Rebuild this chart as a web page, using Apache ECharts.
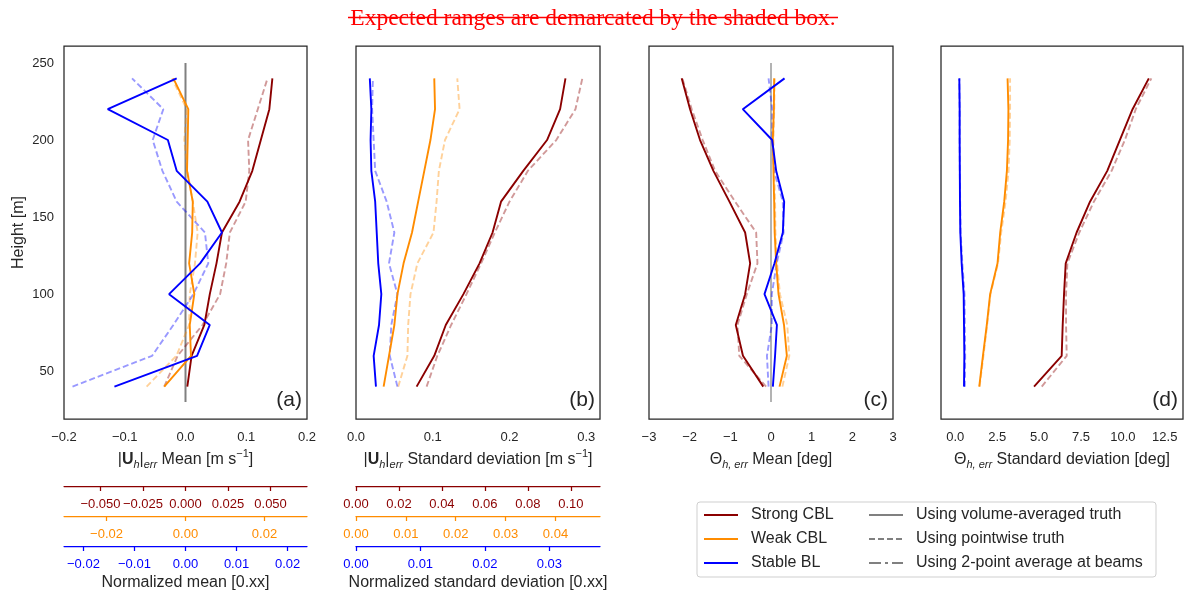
<!DOCTYPE html>
<html>
<head>
<meta charset="utf-8">
<script src="https://cdn.jsdelivr.net/npm/echarts@6/dist/echarts.min.js"></script>
<style>
  html, body { margin: 0; padding: 0; background: #fff; }
  #chart { width: 1184px; height: 592px; }
</style>
</head>
<body>
<div id="chart"></div>
<script>
// profile levels [m]
const heights = [40, 60, 80, 100, 120, 140, 160, 180, 200, 220, 240];
const zeroLine = [30, 250];

// (a) |U_h|_err mean [m/s]  (Vol = volume-averaged truth, Pt = pointwise truth)
const strongMeanVol = [0.003, 0.010, 0.031, 0.040, 0.051, 0.060, 0.089, 0.110, 0.124, 0.138, 0.143];
const strongMeanPt = [-0.035, -0.013, 0.028, 0.057, 0.067, 0.073, 0.099, 0.105, 0.103, 0.119, 0.135];
const weakMeanVol = [-0.035, 0.009, 0.007, 0.0145, 0.006, 0.011, 0.012, 0.0025, 0.0036, 0.0046, -0.020];
const weakMeanPt = [-0.064, -0.015, 0.006, 0.007, 0.0156, 0.020, 0.012, 0.003, -0.002, 0.002, -0.022];
const stableMeanVol = [-0.117, 0.019, 0.040, -0.027, 0.024, 0.060, 0.036, -0.0145, -0.029, -0.128, -0.0145];
const stableMeanPt = [-0.186, -0.055, -0.020, 0.013, 0.0375, 0.032, -0.0145, -0.038, -0.054, -0.0365, -0.088];

// (b) |U_h|_err standard deviation [m/s]
const strongStdVol = [0.079, 0.102, 0.117, 0.140, 0.161, 0.178, 0.189, 0.218, 0.249, 0.266, 0.273];
const strongStdPt = [0.092, 0.106, 0.124, 0.144, 0.163, 0.181, 0.200, 0.224, 0.261, 0.286, 0.295];
const weakStdVol = [0.036, 0.043, 0.050, 0.054, 0.062, 0.073, 0.081, 0.089, 0.097, 0.103, 0.102];
const weakStdPt = [0.055, 0.067, 0.068, 0.071, 0.080, 0.101, 0.105, 0.108, 0.116, 0.135, 0.132];
const stableStdVol = [0.026, 0.023, 0.030, 0.033, 0.029, 0.027, 0.025, 0.020, 0.019, 0.020, 0.018];
const stableStdPt = [0.054, 0.044, 0.046, 0.054, 0.043, 0.050, 0.040, 0.025, 0.023, 0.021, 0.022];

// (c) Theta_h,err mean [deg]
const strongDirVol = [-0.19, -0.69, -0.866, -0.636, -0.513, -0.636, -1.022, -1.416, -1.745, -1.99, -2.196];
const strongDirPt = [-0.12, -0.78, -0.825, -0.595, -0.333, -0.365, -0.883, -1.375, -1.68, -1.95, -2.18];
const weakDirVol = [0.21, 0.39, 0.32, 0.185, 0.127, 0.09, 0.078, 0.06, 0.045, 0.07, 0.078];
const weakDirPt = [0.28, 0.45, 0.40, 0.22, 0.15, 0.11, 0.10, 0.08, 0.06, 0.08, 0.09];
const stableDirVol = [0.046, 0.10, 0.145, -0.16, 0.086, 0.291, 0.324, 0.127, 0.029, -0.694, 0.333];
const stableDirPt = [-0.06, -0.10, 0.02, 0.02, 0.14, 0.31, 0.29, 0.078, 0.03, 0.03, -0.06];

// (d) Theta_h,err standard deviation [deg]
const strongDirStdVol = [4.70, 6.35, 6.41, 6.49, 6.59, 7.24, 8.04, 9.07, 9.82, 10.58, 11.55];
const strongDirStdPt = [5.16, 6.65, 6.61, 6.61, 6.69, 7.40, 8.27, 9.33, 10.12, 10.77, 11.70];
const weakDirStdVol = [1.43, 1.65, 1.88, 2.08, 2.52, 2.68, 2.92, 3.08, 3.15, 3.17, 3.12];
const weakDirStdPt = [1.45, 1.68, 1.90, 2.10, 2.55, 2.74, 3.00, 3.18, 3.25, 3.27, 3.27];
const stableDirStdVol = [0.52, 0.54, 0.52, 0.50, 0.38, 0.30, 0.28, 0.27, 0.26, 0.26, 0.24];
const stableDirStdPt = [0.57, 0.59, 0.57, 0.55, 0.42, 0.32, 0.29, 0.27, 0.26, 0.26, 0.24];

// tick labels
const heightTicks = [50, 100, 150, 200, 250];
const meanTicks = [-0.2, -0.1, 0, 0.1, 0.2];
const stdTicks = [0, 0.1, 0.2, 0.3];
const dirTicks = [-3, -2, -1, 0, 1, 2, 3];
const dirStdTicks = [0, 2.5, 5, 7.5, 10, 12.5];
const normMeanStrongTicks = [-0.05, -0.025, 0, 0.025, 0.05];
const normMeanWeakTicks = [-0.02, 0, 0.02];
const normMeanStableTicks = [-0.02, -0.01, 0, 0.01, 0.02];
const normStdStrongTicks = [0, 0.02, 0.04, 0.06, 0.08, 0.10];
const normStdWeakTicks = [0, 0.01, 0.02, 0.03, 0.04];
const normStdStableTicks = [0, 0.01, 0.02, 0.03];

// mean wind speed used for the normalized axes [m/s]
const normStrong = 2.8, normWeak = 6.5, normStable = 8.4;

const legendCases = ['Strong CBL', 'Weak CBL', 'Stable BL'];
const legendTruth = ['Using volume-averaged truth', 'Using pointwise truth', 'Using 2-point average at beams'];

const RED = '#8b0000', ORANGE = '#ff8c00', BLUE = '#0000ff', GRAY = '#808080', INK = '#262626';
const FONT = '"Liberation Sans", Arial, sans-serif';
const MINUS = '\u2212';
const fmt = d => v => (v < 0 ? MINUS : '') + Math.abs(v).toFixed(d);

const panels = [
    { left: 64, width: 243 },
    { left: 356, width: 244 },
    { left: 649, width: 244 },
    { left: 941, width: 242 }
];
const yMin = 19, yMax = 261;

const nameStyle = {
    fontSize: 16, color: INK, fontFamily: FONT, lineHeight: 22,
    rich: {
        b: { fontSize: 16, fontWeight: 'bold', color: INK, fontFamily: FONT, lineHeight: 22 },
        sub: { fontSize: 11, fontStyle: 'italic', color: INK, fontFamily: FONT, verticalAlign: 'bottom', lineHeight: 13 },
        sup: { fontSize: 11, color: INK, fontFamily: FONT, verticalAlign: 'top', lineHeight: 13 }
    }
};

function profile(name, xs, g, color, dashed) {
    return {
        name: name,
        type: 'line',
        xAxisIndex: g,
        yAxisIndex: g,
        data: heights.map((h, i) => [xs[i], h]),
        symbol: 'none',
        silent: true,
        z: dashed ? 2 : 3,
        itemStyle: { color: color },
        lineStyle: { color: color, width: 1.9, type: dashed ? [6, 3] : 'solid', opacity: dashed ? 0.4 : 1 }
    };
}

function mainX(g, min, max, ticks, dec, name) {
    return {
        gridIndex: g, type: 'value', min: min, max: max,
        axisLine: { show: false }, axisTick: { show: false }, splitLine: { show: false },
        axisLabel: { customValues: ticks, formatter: fmt(dec), margin: 12, color: INK, fontSize: 13, fontFamily: FONT },
        name: name, nameLocation: 'middle', nameGap: 28, nameTextStyle: nameStyle
    };
}

function normX(g, min, max, ticks, dec, color, name) {
    return {
        gridIndex: g, type: 'value', min: min, max: max, position: 'bottom',
        axisLine: { show: true, onZero: false, lineStyle: { color: color, width: 1.25 } },
        axisTick: { show: true, length: 5, customValues: ticks, lineStyle: { color: color, width: 1.25 } },
        splitLine: { show: false },
        axisLabel: { customValues: ticks, formatter: fmt(dec), margin: 12, color: color, fontSize: 13, fontFamily: FONT },
        name: name || '', nameLocation: 'middle', nameGap: 29,
        nameTextStyle: { fontSize: 16, color: INK, fontFamily: FONT }
    };
}

const grids = panels.map(p => ({
    left: p.left, width: p.width, top: 46, height: 373,
    show: true, borderColor: INK, borderWidth: 1.25, backgroundColor: 'transparent'
}));
[485, 515, 545].forEach(t => grids.push({ left: panels[0].left, width: panels[0].width, top: t, height: 1 }));
[485, 515, 545].forEach(t => grids.push({ left: panels[1].left, width: panels[1].width, top: t, height: 1 }));

const xAxes = [
    mainX(0, -0.2, 0.2, meanTicks, 1, '|{b|U}{sub|h}|{sub|err} Mean [m s{sup|\u22121}]'),
    mainX(1, 0, 0.318, stdTicks, 1, '|{b|U}{sub|h}|{sub|err} Standard deviation [m s{sup|\u22121}]'),
    mainX(2, -3, 3, dirTicks, 0, '\u0398{sub|h, err} Mean [deg]'),
    mainX(3, -0.853, 13.59, dirStdTicks, 1, '\u0398{sub|h, err} Standard deviation [deg]'),
    normX(4, -0.2 / normStrong, 0.2 / normStrong, normMeanStrongTicks, 3, RED),
    normX(5, -0.2 / normWeak, 0.2 / normWeak, normMeanWeakTicks, 2, ORANGE),
    normX(6, -0.2 / normStable, 0.2 / normStable, normMeanStableTicks, 2, BLUE, 'Normalized mean [0.xx]'),
    normX(7, 0, 0.318 / normStrong, normStdStrongTicks, 2, RED),
    normX(8, 0, 0.318 / normWeak, normStdWeakTicks, 2, ORANGE),
    normX(9, 0, 0.318 / normStable, normStdStableTicks, 2, BLUE, 'Normalized standard deviation [0.xx]')
];

const yAxes = [];
for (let g = 0; g < 4; g++) {
    yAxes.push({
        gridIndex: g, type: 'value', min: yMin, max: yMax,
        axisLine: { show: false }, axisTick: { show: false }, splitLine: { show: false },
        axisLabel: { show: g === 0, customValues: heightTicks, margin: 10, color: INK, fontSize: 13, fontFamily: FONT },
        name: g === 0 ? 'Height [m]' : '', nameLocation: 'middle', nameGap: 37,
        nameTextStyle: { fontSize: 16, color: INK, fontFamily: FONT }
    });
}
for (let g = 4; g < 10; g++) {
    yAxes.push({ gridIndex: g, type: 'value', min: 0, max: 1, show: false });
}

const series = [
    { name: 'zero a', type: 'line', xAxisIndex: 0, yAxisIndex: 0, data: zeroLine.map(h => [0, h]), symbol: 'none', silent: true, z: 1, lineStyle: { color: GRAY, width: 2 } },
    { name: 'zero c', type: 'line', xAxisIndex: 2, yAxisIndex: 2, data: zeroLine.map(h => [0, h]), symbol: 'none', silent: true, z: 1, lineStyle: { color: GRAY, width: 1.2 } },

    profile('Strong CBL', strongMeanVol, 0, RED, false),
    profile('Strong CBL pt', strongMeanPt, 0, RED, true),
    profile('Weak CBL', weakMeanVol, 0, ORANGE, false),
    profile('Weak CBL pt', weakMeanPt, 0, ORANGE, true),
    profile('Stable BL', stableMeanVol, 0, BLUE, false),
    profile('Stable BL pt', stableMeanPt, 0, BLUE, true),

    profile('Strong CBL', strongStdVol, 1, RED, false),
    profile('Strong CBL pt', strongStdPt, 1, RED, true),
    profile('Weak CBL', weakStdVol, 1, ORANGE, false),
    profile('Weak CBL pt', weakStdPt, 1, ORANGE, true),
    profile('Stable BL', stableStdVol, 1, BLUE, false),
    profile('Stable BL pt', stableStdPt, 1, BLUE, true),

    profile('Strong CBL', strongDirVol, 2, RED, false),
    profile('Strong CBL pt', strongDirPt, 2, RED, true),
    profile('Weak CBL', weakDirVol, 2, ORANGE, false),
    profile('Weak CBL pt', weakDirPt, 2, ORANGE, true),
    profile('Stable BL', stableDirVol, 2, BLUE, false),
    profile('Stable BL pt', stableDirPt, 2, BLUE, true),

    profile('Strong CBL', strongDirStdVol, 3, RED, false),
    profile('Strong CBL pt', strongDirStdPt, 3, RED, true),
    profile('Weak CBL', weakDirStdVol, 3, ORANGE, false),
    profile('Weak CBL pt', weakDirStdPt, 3, ORANGE, true),
    profile('Stable BL', stableDirStdVol, 3, BLUE, false),
    profile('Stable BL pt', stableDirStdPt, 3, BLUE, true),

    // legend-only entries for the truth styles
    { name: legendTruth[0], type: 'line', data: [], symbol: 'none', itemStyle: { color: GRAY }, lineStyle: { color: GRAY, width: 1.8 } },
    { name: legendTruth[1], type: 'line', data: [], symbol: 'none', itemStyle: { color: GRAY }, lineStyle: { color: GRAY, width: 1.8, type: [6, 3] } },
    { name: legendTruth[2], type: 'line', data: [], symbol: 'none', itemStyle: { color: GRAY }, lineStyle: { color: GRAY, width: 1.8, type: [12, 4, 3, 4] } }
];

const legendBase = {
    orient: 'vertical', top: 506, padding: 0, itemWidth: 34, itemHeight: 18, itemGap: 6,
    selectedMode: false, itemStyle: { opacity: 0 },
    textStyle: { fontSize: 16, color: INK, fontFamily: FONT, lineHeight: 18, padding: [0, 0, 0, 8] }
};

const letterText = (txt, x) => ({
    type: 'text', x: x, y: 400,
    style: { text: txt, fontSize: 21, fontFamily: FONT, fill: INK, textAlign: 'right', textVerticalAlign: 'middle' }
});

const chart = echarts.init(document.getElementById('chart'), null, { renderer: 'canvas' });
chart.setOption({
    animation: false,
    backgroundColor: '#ffffff',
    textStyle: { fontFamily: FONT },
    grid: grids,
    xAxis: xAxes,
    yAxis: yAxes,
    legend: [
        Object.assign({}, legendBase, { left: 703, data: legendCases }),
        Object.assign({}, legendBase, { left: 868, data: legendTruth })
    ],
    graphic: [
        { type: 'rect', shape: { x: 697, y: 502, width: 459, height: 75, r: 3 }, style: { fill: 'none', stroke: '#cfcfcf', lineWidth: 1 } },
        { type: 'text', x: 593, y: 19, style: { text: 'Expected ranges are demarcated by the shaded box.', fontSize: 23.5, fontFamily: '"Liberation Serif", "Times New Roman", serif', fill: '#ff0000', textAlign: 'center', textVerticalAlign: 'middle' } },
        { type: 'line', shape: { x1: 348, y1: 17.5, x2: 838, y2: 17.5 }, style: { stroke: '#ff0000', lineWidth: 1.3 } },
        letterText('(a)', 302),
        letterText('(b)', 595),
        letterText('(c)', 888),
        letterText('(d)', 1178)
    ],
    series: series
});
</script>
</body>
</html>
